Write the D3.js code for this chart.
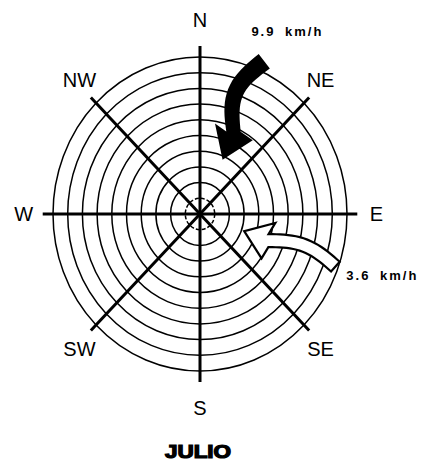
<!DOCTYPE html>
<html>
<head>
<meta charset="utf-8">
<script src="https://cdn.jsdelivr.net/npm/d3@7"></script>
<style>
  body { margin: 0; background: #fff; }
  svg { display: block; }
</style>
</head>
<body>
<svg id="rose"></svg>
<script>
// compass points and their bearings
const directions = ["N", "NE", "E", "SE", "S", "SW", "W", "NW"];
const bearings = [0, 45, 90, 135, 180, 225, 270, 315];
const rings = [1, 2, 3, 4, 5, 6, 7, 8, 9, 10];

// prevailing winds for the month
const windLabels = ["9.9 km/h", "3.6 km/h"];
const windSpeeds = [9.9, 3.6];
const windFrom = [24, 110];      // bearing the wind comes from
const windTail = [10.6, 9.8];    // ring where arrow starts
const windTip = [3.9, 3.2];      // ring where arrow ends
const monthName = "JULIO";

const width = 426, height = 462;
const cx = 200, cy = 214;

const svg = d3.select("#rose")
    .attr("width", width)
    .attr("height", height);

// drawing is a little taller than wide, so two radial scales
const rx = d3.scaleLinear().domain([0, 10]).range([0, 147]);
const ry = d3.scaleLinear().domain([0, 10]).range([0, 157]);

function project(bearing, ring, ringY) {
    const a = bearing * Math.PI / 180;
    return [cx + rx(ring) * Math.sin(a), cy - ry(ringY === undefined ? ring : ringY) * Math.cos(a)];
}

// rings
svg.append("g")
    .selectAll("ellipse")
    .data(rings)
    .join("ellipse")
    .attr("cx", cx)
    .attr("cy", cy)
    .attr("rx", d => rx(d))
    .attr("ry", d => ry(d))
    .attr("fill", "none")
    .attr("stroke", "#000")
    .attr("stroke-width", 1.5)
    .attr("stroke-dasharray", d => d === 1 ? "4,2" : null);

// axes
const axisEnd = d => d % 90 === 0 ? 10.7 : 10.5;
svg.append("g")
    .selectAll("line")
    .data(bearings.slice(0, 4))
    .join("line")
    .attr("x1", d => project(d, axisEnd(d))[0])
    .attr("y1", d => project(d, axisEnd(d))[1])
    .attr("x2", d => project(d + 180, axisEnd(d))[0])
    .attr("y2", d => project(d + 180, axisEnd(d))[1])
    .attr("stroke", "#000")
    .attr("stroke-width", 3);

// compass labels
const labelPos = b => b % 90 === 0 ? project(b, 12.0, 12.35) : project(b, 11.6, 12.1);
svg.append("g")
    .selectAll("text")
    .data(directions)
    .join("text")
    .attr("x", (d, i) => labelPos(bearings[i])[0])
    .attr("y", (d, i) => labelPos(bearings[i])[1])
    .attr("dy", "0.36em")
    .attr("text-anchor", "middle")
    .attr("font-family", "'Liberation Sans', Arial, sans-serif")
    .attr("font-size", "20px")
    .text(d => d);

// curved arrow outline from tail to tip
function arrowPath(tail, tip, opt) {
    const dx = tip[0] - tail[0], dy = tip[1] - tail[1];
    const L = Math.hypot(dx, dy);
    const u = [dx / L, dy / L];
    const n = [-u[1], u[0]];
    const Ls = L - opt.headLen;
    const center = t => [
        tail[0] + u[0] * t * Ls + n[0] * opt.bend * Math.sin(Math.PI * t),
        tail[1] + u[1] * t * Ls + n[1] * opt.bend * Math.sin(Math.PI * t)
    ];
    const ts = d3.range(0, 1.0001, 0.05);
    const left = [], right = [];
    ts.forEach(t => {
        const p = center(t);
        const q = center(Math.min(1, t + 0.01)), r = center(Math.max(0, t - 0.01));
        const tl = Math.hypot(q[0] - r[0], q[1] - r[1]);
        const nn = [-(q[1] - r[1]) / tl, (q[0] - r[0]) / tl];
        const hw = (opt.w0 + (opt.w1 - opt.w0) * t) / 2;
        left.push([p[0] + nn[0] * hw, p[1] + nn[1] * hw]);
        right.push([p[0] - nn[0] * hw, p[1] - nn[1] * hw]);
    });
    const b = center(1);
    const pts = left.concat([
        [b[0] + n[0] * opt.headW / 2, b[1] + n[1] * opt.headW / 2],
        tip,
        [b[0] - n[0] * opt.headW / 2, b[1] - n[1] * opt.headW / 2]
    ], right.reverse());
    return d3.line()(pts) + "Z";
}

const arrowStyle = [
    { fill: "#000", bend: 14, w0: 16, w1: 12, headLen: 27, headW: 37, dx: -12, dy: -26 },
    { fill: "#fff", bend: 8.5, w0: 13, w1: 13, headLen: 26, headW: 38, dx: 11, dy: 13 }
];

windSpeeds.forEach((s, i) => {
    const tail = project(windFrom[i], windTail[i]);
    const tip = project(windFrom[i], windTip[i]);
    const st = arrowStyle[i];

    svg.append("path")
        .attr("d", arrowPath(tail, tip, st))
        .attr("fill", st.fill)
        .attr("stroke", "#000")
        .attr("stroke-width", 2.2)
        .attr("stroke-linejoin", "miter");

    svg.append("text")
        .attr("x", tail[0] + st.dx)
        .attr("y", tail[1] + st.dy)
        .attr("font-family", "'Liberation Sans', Arial, sans-serif")
        .attr("font-size", "13px")
        .attr("font-weight", "bold")
        .attr("letter-spacing", "2px")
        .attr("word-spacing", "4px")
        .text(windLabels[i]);
});

// month title
svg.append("text")
    .attr("transform", "translate(198,458) scale(1.25,1)")
    .attr("text-anchor", "middle")
    .attr("font-family", "'Liberation Sans', Arial, sans-serif")
    .attr("font-size", "18px")
    .attr("font-weight", "bold")
    .attr("stroke", "#000")
    .attr("stroke-width", 1.2)
    .text(monthName);
</script>
</body>
</html>
